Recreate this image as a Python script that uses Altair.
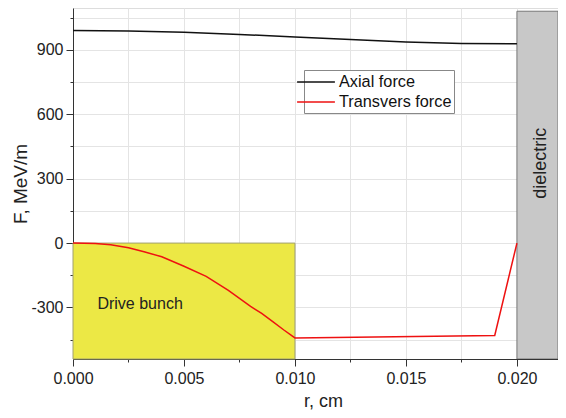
import altair as alt
import pandas as pd

# ---- data ----
r_axial = [0.0, 0.0025, 0.005, 0.0075, 0.010, 0.0125, 0.015, 0.0175, 0.020]
f_axial = [990, 988, 982, 972, 960, 948, 937, 930, 928]

r_trans = [0.0, 0.001, 0.0017, 0.0025, 0.0032, 0.004, 0.005, 0.006, 0.007,
           0.008, 0.0085, 0.009, 0.0095, 0.010, 0.019, 0.020]
f_trans = [0, -2, -8, -22, -40, -64, -108, -155, -220,
           -295, -328, -366, -405, -442, -430, 0]

series_names = ["Axial force", "Transvers force"]
series_colors = ["#111111", "#ee1111"]

x_domain = [0.0, 0.02185]
y_domain = [-540, 1095]

bunch_region = {"x0": 0.0, "x1": 0.010, "y0": -540, "y1": 0}
diel_region = {"x0": 0.020, "x1": 0.02185, "y0": -540, "y1": 1080}

x_tick_values = [0, 0.0025, 0.005, 0.0075, 0.01, 0.0125, 0.015, 0.0175, 0.02]
y_tick_values = [-450, -300, -150, 0, 150, 300, 450, 600, 750, 900, 1050]

FONT = "Liberation Sans"

lines_df = pd.DataFrame(
    {"r": r_axial + r_trans,
     "F": f_axial + f_trans,
     "series": [series_names[0]] * len(r_axial) + [series_names[1]] * len(r_trans),
     "order": list(range(len(r_axial))) + list(range(len(r_trans)))}
)

x_scale = alt.Scale(domain=x_domain, nice=False, zero=False)
y_scale = alt.Scale(domain=y_domain, nice=False, zero=False)

x_major = "abs(datum.value*200 - round(datum.value*200)) < 0.001"
y_major = "abs(datum.value/300 - round(datum.value/300)) < 0.01"

x_axis = alt.Axis(
    values=x_tick_values, title="r, cm", format=".3f",
    labelExpr=x_major + " ? datum.label : ''",
    labelFontSize=16, titleFontSize=18, labelFont=FONT, titleFont=FONT,
    labelColor="#222", titleColor="#222", titleFontWeight="normal",
    tickSize={"condition": {"test": x_major, "value": 7}, "value": 3},
    tickColor="#333", domainColor="#333", labelPadding=4, titlePadding=6,
    titleX=250,
    gridColor="#e4e4e4", labelFlush=False,
)
y_axis = alt.Axis(
    values=y_tick_values, title="F, MeV/m", format="d",
    labelExpr=y_major + " ? replace(datum.label, '\u2212', '-') : ''",
    labelFontSize=16, titleFontSize=19, labelFont=FONT, titleFont=FONT,
    labelColor="#222", titleColor="#222", titleFontWeight="normal",
    tickSize={"condition": {"test": y_major, "value": 7}, "value": 3},
    tickColor="#333", domainColor="#333", labelPadding=3, titlePadding=0,
    gridColor="#e4e4e4", labelOverlap=False,
)

bunch = alt.Chart(pd.DataFrame([bunch_region])).mark_rect(
    color="#ece845", stroke="#a0a070", strokeWidth=1
).encode(
    x=alt.X("x0:Q", scale=x_scale, axis=x_axis), x2="x1:Q",
    y=alt.Y("y0:Q", scale=y_scale, axis=y_axis), y2="y1:Q",
)

diel = alt.Chart(pd.DataFrame([diel_region])).mark_rect(
    color="#c8c8c8", stroke="#777777", strokeWidth=1, clip=True
).encode(
    x=alt.X("x0:Q", scale=x_scale, axis=x_axis), x2="x1:Q",
    y=alt.Y("y0:Q", scale=y_scale, axis=y_axis), y2="y1:Q",
)

lines = alt.Chart(lines_df).mark_line(strokeWidth=1.5).encode(
    x=alt.X("r:Q", scale=x_scale, axis=x_axis),
    y=alt.Y("F:Q", scale=y_scale, axis=y_axis),
    color=alt.Color(
        "series:N",
        scale=alt.Scale(domain=series_names, range=series_colors),
        legend=alt.Legend(
            title=None, orient="none", legendX=231, legendY=62,
            symbolType="M-2.1,0L2.1,0", symbolSize=324, symbolStrokeWidth=1.5,
            labelFontSize=16.3, labelFont=FONT, labelColor="#111",
            labelOffset=13, rowPadding=1, padding=2,
            strokeColor="#888", fillColor="white",
        ),
    ),
    order="order:Q",
)

labels_df = pd.DataFrame({
    "x": [0.0011, 0.0211],
    "y": [-284, 372],
    "text": ["Drive bunch", "dielectric"],
})
bunch_label = alt.Chart(labels_df.iloc[[0]]).mark_text(
    align="left", baseline="middle", fontSize=16, font=FONT, color="#222"
).encode(x=alt.X("x:Q", scale=x_scale, axis=x_axis),
         y=alt.Y("y:Q", scale=y_scale, axis=y_axis), text="text:N")

diel_label = alt.Chart(labels_df.iloc[[1]]).mark_text(
    align="center", baseline="middle", fontSize=18, font=FONT, color="#222", angle=270
).encode(x=alt.X("x:Q", scale=x_scale, axis=x_axis),
         y=alt.Y("y:Q", scale=y_scale, axis=y_axis), text="text:N")

chart = alt.layer(bunch, diel, lines, bunch_label, diel_label).properties(
    width=485, height=351,
    autosize=alt.AutoSizeParams(type="none"),
    padding={"left": 65, "top": 0, "right": 0, "bottom": 51},
).configure_view(stroke=None).configure(background="white")

chart.save("out.html", embed_options={"renderer": "svg", "actions": False})
